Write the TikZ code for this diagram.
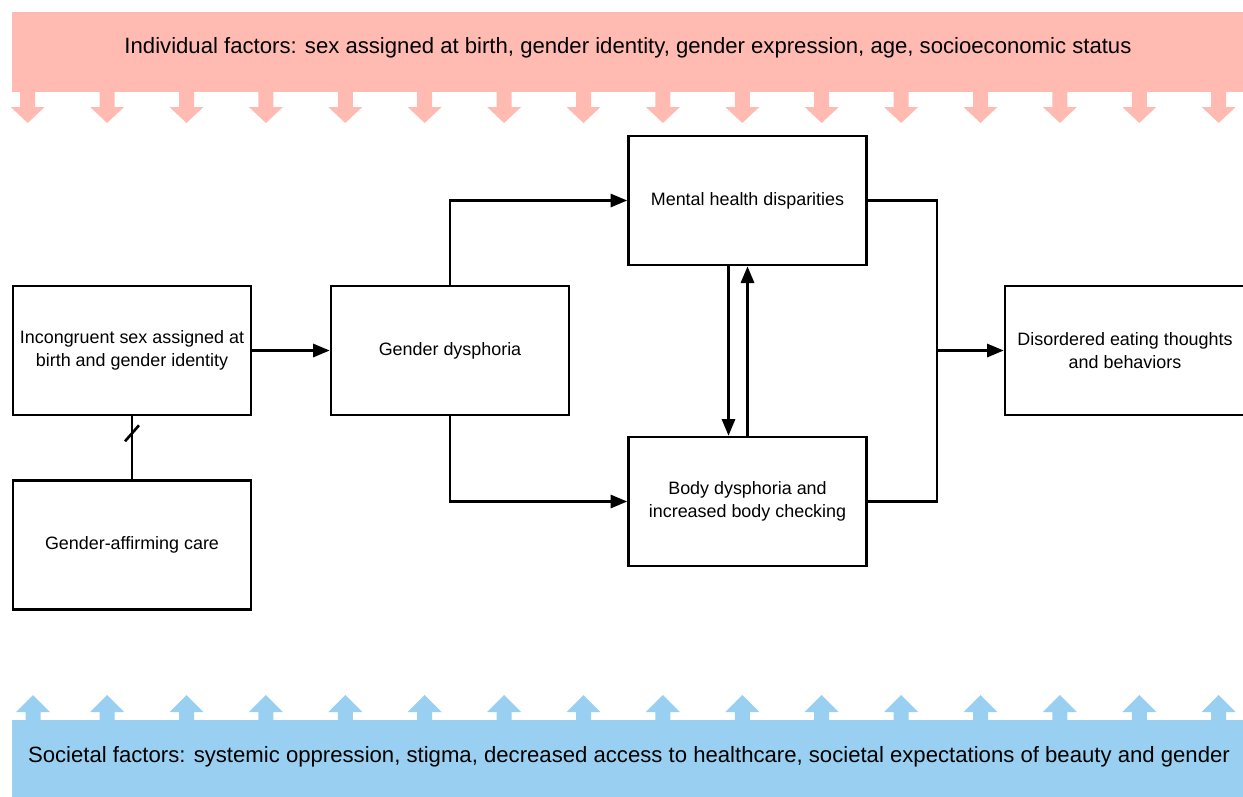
\documentclass[tikz,border=0pt]{standalone}
\usepackage{fontspec}
\setmainfont{Liberation Sans}
\usepackage{tikz}
\usetikzlibrary{arrows.meta}

\definecolor{indivred}{RGB}{255,187,177}
\definecolor{socblue}{RGB}{153,208,242}

\tikzset{
  box/.style={draw, line width=1.5pt, minimum width=4.76cm, minimum height=2.58cm,
    align=center, font=\fontsize{10.2}{13}\selectfont},
  banner/.style={font=\fontsize{12.6}{15}\selectfont},
  link/.style={line width=1.5pt},
  flow/.style={line width=1.5pt, -{Triangle[length=9.5pt,width=7.5pt]}},
  downarrow/.pic={\fill[indivred] (-7.5,-1) -- (7.5,-1) -- (7.5,15) -- (17,15) -- (0,31) -- (-17,15) -- (-7.5,15) -- cycle;},
  uparrow/.pic={\fill[socblue] (-7.5,1) -- (-7.5,-8) -- (-17,-8) -- (0,-25) -- (17,-8) -- (7.5,-8) -- (7.5,1) -- cycle;}
}

\begin{document}
\begin{tikzpicture}[x=0.02cm, y=-0.02cm]
    \useasboundingbox (0,0) rectangle (1243,796);
    % Individual factors
    \fill[indivred] (12,12) rectangle (1260,92);
    \node[banner] (indiv) at (628,48) {Individual factors: sex assigned at birth, gender identity, gender expression, age, socioeconomic status};
    \pic at (27.7,92) {downarrow};
    \pic at (107.1,92) {downarrow};
    \pic at (186.5,92) {downarrow};
    \pic at (265.9,92) {downarrow};
    \pic at (345.3,92) {downarrow};
    \pic at (424.7,92) {downarrow};
    \pic at (504.1,92) {downarrow};
    \pic at (583.5,92) {downarrow};
    \pic at (662.9,92) {downarrow};
    \pic at (742.3,92) {downarrow};
    \pic at (821.7,92) {downarrow};
    \pic at (901.1,92) {downarrow};
    \pic at (980.5,92) {downarrow};
    \pic at (1059.9,92) {downarrow};
    \pic at (1139.3,92) {downarrow};
    \pic at (1218.7,92) {downarrow};
    % Societal factors
    \fill[socblue] (12,720) rectangle (1260,810);
    \node[banner] (soc) at (629,757) {Societal factors: systemic oppression, stigma, decreased access to healthcare, societal expectations of beauty and gender};
    \pic at (33,720) {uparrow};
    \pic at (107.1,720) {uparrow};
    \pic at (186.5,720) {uparrow};
    \pic at (265.9,720) {uparrow};
    \pic at (345.3,720) {uparrow};
    \pic at (424.7,720) {uparrow};
    \pic at (504.1,720) {uparrow};
    \pic at (583.5,720) {uparrow};
    \pic at (662.9,720) {uparrow};
    \pic at (742.3,720) {uparrow};
    \pic at (821.7,720) {uparrow};
    \pic at (901.1,720) {uparrow};
    \pic at (980.5,720) {uparrow};
    \pic at (1059.9,720) {uparrow};
    \pic at (1139.3,720) {uparrow};
    \pic at (1218.7,720) {uparrow};
    % Boxes
    \node[box] (incong) at (132,350.5) {Incongruent sex assigned at\\birth and gender identity};
    \node[box] (care) at (132,545) {Gender-affirming care};
    \node[box] (dysph) at (450,350.5) {Gender dysphoria};
    \node[box] (mental) at (747.5,200.5) {Mental health disparities};
    \node[box] (body) at (747.5,501.5) {Body dysphoria and\\increased body checking};
    \node[box, minimum width=4.8cm] (eating) at (1125,350.5) {Disordered eating thoughts\\and behaviors};
    \coordinate (join) at (937,350.5);
    % Connectors
    \draw[flow] (incong) -- (dysph);
    \draw[link] (care) -- (incong) coordinate[pos=0.73] (cut);
    \draw[link] ([shift={(-7,8)}]cut) -- ([shift={(7,-8)}]cut);
    \draw[flow] (dysph.north) |- (mental.west);
    \draw[flow] (dysph.south) |- (body.west);
    \draw[flow] ([xshift=-0.38cm]mental.south) -- ([xshift=-0.38cm]body.north);
    \draw[flow] (body.north) -- (mental.south);
    \draw[link] (mental.east) -| (join) |- (body.east);
    \draw[flow] (join) -- (eating);
\end{tikzpicture}
\end{document}
